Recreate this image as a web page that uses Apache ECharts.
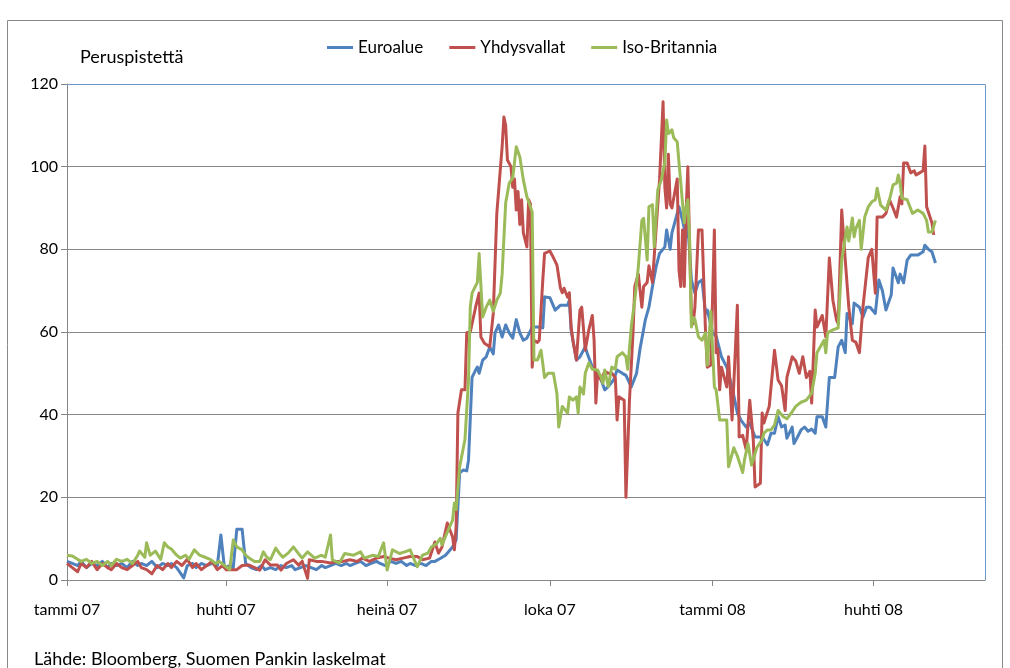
<!DOCTYPE html>
<html><head><meta charset="utf-8">
<script src="https://cdn.jsdelivr.net/npm/echarts@6/dist/echarts.min.js"></script>
<style>html,body{margin:0;padding:0;background:#fff}#c{width:1010px;height:668px}</style>
</head><body><div id="c"></div>
<script>
// x values are days since 2007-01-01
const baseDate = '2007-01-01';
const axisEndDate = '2008-06-03';
const tickDates = ['2007-01-01','2007-04-01','2007-07-01','2007-10-01','2008-01-01','2008-04-01'];
const tickLabels = ['tammi 07','huhti 07','heinä 07','loka 07','tammi 08','huhti 08'];
const yTicks = [0,20,40,60,80,100,120];
const seriesNames = ['Euroalue','Yhdysvallat','Iso-Britannia'];
const unitLabel = 'Peruspistettä';
const sourceText = 'Lähde: Bloomberg, Suomen Pankin laskelmat';

const euroalue = [[0,4.5],[3,4],[6,3.5],[8,4.5],[11,3],[14,4],[17,3.5],[20,4.5],[23,3],[25,4],[28,3.5],[31,4],[34,3],[37,4.5],[40,3.5],[42,4],[45,3.5],[48,4.5],[51,3],[54,4],[57,3.5],[59,4],[62,3],[66,0.5],[68,3.5],[71,4],[73,3],[76,4],[79,3.5],[82,4],[85,3.5],[87,10.9],[89,3],[92,3.5],[94,3],[96,12.3],[99,12.3],[101,4],[104,3],[107,2.5],[110,3.5],[112,2.5],[115,3],[118,2.5],[121,3.5],[124,3],[127,3.5],[129,2.5],[132,3],[135,3.5],[138,3],[141,2.5],[144,3.5],[146,3],[149,3.5],[152,4],[155,3.5],[158,4],[160,3.5],[163,4],[166,4.5],[169,3.5],[172,4],[175,4.5],[177,4],[180,3.5],[183,4.5],[186,4],[189,4.5],[192,3.5],[194,4],[197,3.5],[200,4],[203,3.5],[206,4.5],[208,4.5],[211,5.2],[214,6],[215,5.8],[218,8],[220,9.7],[222,25.9],[224,26.6],[226,26.4],[227,29],[229,49],[231,50.8],[232,51.5],[233,50],[235,53.2],[237,54],[239,56.4],[241,54.7],[242,59.8],[244,61.7],[246,58.8],[248,61.7],[250,59.8],[252,58.5],[254,63],[256,59.8],[258,58],[260,58.5],[263,61.2],[266,61.2],[267,61.2],[269,61],[270,68.5],[273,68.3],[276,65.3],[279,66.5],[283,66.5],[284,67.7],[285,60.5],[288,53.2],[290,54],[293,56.4],[294,55],[297,51.5],[299,50.5],[302,48.4],[304,46],[306,46.8],[309,48.4],[311,50.8],[314,50],[316,49.5],[319,46.7],[322,50],[324,56],[327,63],[329,66],[331,71],[333,75.7],[335,79],[338,80.6],[339,84.7],[341,80],[342,84],[345,88.7],[346,90.3],[348,87],[350,83],[351,86],[353,72.6],[355,69.4],[357,72],[359,72.6],[361,64.5],[362,65.3],[363,63.6],[365,59.8],[367,59],[370,54],[373,51.5],[376,46.7],[379,40.4],[381,38.7],[384,37],[386,38],[389,34.6],[390,34.4],[393,34.6],[394,34],[396,32.7],[398,35.5],[400,35.5],[402,39.5],[404,37],[406,37.5],[407,34.3],[410,37],[411,33],[413,34.6],[415,36.3],[417,37],[419,36],[421,36.5],[423,35.5],[424,39.5],[427,39.5],[429,37],[431,49],[434,49],[436,56.4],[438,58],[440,55],[441,64.5],[444,62],[445,67],[448,66],[450,63.6],[452,66],[454,66],[457,64.5],[459,72.6],[461,70],[463,65.3],[466,69],[467,75.5],[470,71.9],[471,74],[473,71.9],[475,77.4],[477,78.6],[481,78.6],[484,79.4],[485,81],[487,80],[489,79.4],[491,76.7]];

const yhdysvallat = [[0,4],[3,3],[6,2],[8,4],[11,3],[14,4.5],[17,2.5],[20,4],[23,3],[25,2.5],[28,4],[31,3],[34,2.5],[37,3.5],[40,4.5],[42,3],[45,2.5],[48,1.5],[51,3.5],[54,2.5],[57,4],[59,3],[62,4.5],[65,3.5],[68,5],[71,3],[73,4],[76,2.5],[79,3.5],[82,4.5],[85,2.5],[88,3.5],[90,2.5],[93,2.5],[96,2.5],[99,3.5],[103,3.6],[106,3],[109,2.4],[112,4.9],[115,3.6],[119,3.6],[121,2.4],[124,4],[128,4.9],[131,3.6],[133,4.5],[136,0.4],[137,4.9],[141,4.5],[144,4.5],[149,4.1],[153,4.5],[156,4.5],[160,4.9],[164,4.5],[167,5.3],[171,4.5],[175,5.3],[179,5.7],[182,5.3],[186,4.9],[190,5.3],[194,5.7],[198,5.7],[201,4.9],[205,5.3],[208,9.2],[210,6.5],[212,8],[215,13.8],[218,10.4],[219,7.3],[220,12.9],[221,40.4],[223,46],[225,46],[226,59.8],[228,60],[229,62],[231,66],[233,69.4],[234,58.8],[236,57.3],[239,56.4],[241,64.5],[243,88.7],[246,104.8],[247,112],[248,110],[249,101.6],[251,100],[252,95],[253,97],[254,89.5],[255,94],[256,86],[257,92],[258,84],[260,80.6],[261,92],[262,91],[263,51.5],[264,58],[266,57.5],[267,58],[269,72.6],[270,79],[273,79.6],[275,78],[277,76.2],[279,70.6],[280,69.5],[281,70.6],[283,68.4],[284,69.5],[285,61.2],[286,58],[288,53.2],[290,65.3],[291,66],[293,55.6],[295,60.5],[297,64],[298,58],[299,42.8],[300,50],[302,48.4],[304,50.5],[306,50],[308,50],[310,49],[311,38.7],[312,44.3],[315,43.5],[316,20],[318,43.5],[320,59.8],[321,71],[323,74],[325,66],[326,71],[328,72],[329,76],[331,72],[333,84.7],[335,96.8],[337,115.7],[338,95],[339,90],[340,103],[341,91],[342,90],[345,97],[346,75],[347,71],[348,84.7],[349,71],[350,88.7],[351,100],[352,80.6],[353,64.5],[354,62],[355,66],[357,84.7],[359,84.7],[361,60],[362,51.5],[364,52],[366,84.7],[367,55],[368,56],[369,46],[370,51.5],[373,46.7],[374,54],[376,38.7],[377,47.6],[379,66.5],[380,34.6],[382,35],[384,31.5],[386,43.5],[388,33.9],[389,22.5],[392,23.4],[393,40.4],[394,38],[397,42],[400,55.6],[401,55.6],[402,48.4],[404,47],[406,41],[407,49],[410,54],[412,53],[414,50],[416,54],[418,49],[420,50.5],[421,42.8],[423,65.3],[424,61.2],[427,64],[429,58.8],[431,77.9],[433,67.7],[435,63],[436,62],[438,89.5],[440,77.4],[442,66],[444,58],[446,57.5],[448,55],[450,66],[453,78],[455,80],[457,69.4],[458,87.8],[461,87.8],[463,88.7],[465,92],[467,90],[469,87.8],[471,92.7],[472,91],[473,100.9],[475,100.9],[477,98.5],[479,99],[480,98],[482,98.5],[484,99],[485,105],[486,90.3],[489,86.4],[490,83.5]];

const isoBritannia = [[0,6],[3,5.8],[6,5],[8,4.5],[11,5],[14,4],[17,4.5],[20,3.5],[23,4.5],[25,3.5],[28,5],[31,4.5],[34,5],[37,4],[40,6],[41,7],[44,5.5],[45,9],[47,6],[50,7],[53,5],[55,9],[57,8],[59,7.5],[62,6],[64,5.3],[67,6],[69,5],[72,7.3],[75,6],[78,5.5],[81,5],[84,4],[86,4.5],[89,3.5],[92,2.5],[94,9.7],[96,8],[99,7.3],[101,6],[103,5.3],[106,4.5],[109,4.5],[111,6.8],[113,5.5],[115,4.9],[118,7.7],[120,6.5],[122,5.5],[125,6.5],[128,8],[131,6.3],[133,5.3],[136,6.8],[140,5.3],[144,6],[146,5.5],[149,10.9],[150,4.9],[154,4.1],[157,6.4],[162,6],[166,6.8],[168,5.3],[173,6],[176,5.7],[179,9],[181,2.4],[184,7.3],[188,6.4],[191,6.8],[194,7.3],[198,3.2],[201,6],[204,6.5],[206,8],[209,8.8],[211,10.1],[212,8.5],[215,11.6],[218,14.5],[219,18.6],[220,17],[222,27.4],[225,34],[227,48.4],[228,66],[229,69.4],[232,72],[233,79],[235,63.6],[237,66],[239,67.7],[241,65],[243,67.7],[245,69.4],[246,74],[248,91.2],[250,96],[252,97.3],[254,104.8],[255,104.8],[256,102.4],[258,96.8],[260,92.7],[262,90.3],[263,89],[264,53.2],[266,53.2],[268,55.6],[270,49],[272,50],[275,50],[277,45],[278,37],[280,42],[283,40.4],[284,44.3],[286,43.5],[288,44.3],[289,40.4],[290,46.7],[292,45],[293,50],[295,52.5],[297,51],[300,50.8],[302,49],[303,47.6],[304,50.8],[306,46.8],[308,51.5],[310,51],[311,54],[314,55],[316,54],[317,51],[319,61.2],[321,67.7],[323,75.7],[325,87],[326,87.5],[328,77.4],[329,90.3],[331,90.8],[332,80.6],[334,94.4],[336,96.8],[338,101],[339,111.3],[340,108],[342,108.9],[343,107],[345,106],[346,101],[348,91.2],[349,86.4],[350,90.3],[351,92],[352,82.3],[353,61.2],[354,63.5],[355,63],[357,58.8],[359,58],[361,59.8],[362,52],[364,65],[366,46.7],[367,46],[369,38.7],[370,39],[373,38.7],[374,27.4],[377,32],[379,30],[382,26],[383,29],[385,33],[387,27.8],[389,30.6],[390,32],[393,34],[394,35.5],[396,36.3],[398,36.3],[400,37.5],[402,41],[405,39.5],[407,39],[410,40.7],[412,42],[415,43],[418,43.5],[421,45.2],[423,50],[424,55],[428,58],[429,55],[430,59.8],[433,60.5],[436,61],[438,77.4],[441,85.4],[442,82],[444,87.6],[445,83],[446,85],[448,87],[449,80],[451,87.8],[453,90.3],[455,91.5],[457,92],[458,94.8],[460,90.7],[463,89.5],[465,92],[467,95.6],[469,96],[470,98],[471,96],[472,92.4],[475,92],[478,88.7],[481,89.5],[484,88.7],[486,87],[487,84.2],[489,84.2],[491,87]];

function dayOf(s){ return Math.round((Date.parse(s+'T00:00:00Z') - Date.parse(baseDate+'T00:00:00Z'))/86400000); }
const tickDays = tickDates.map(dayOf);
const FONT = 'Lato, "Liberation Sans", sans-serif';
const colors = ['#4F81BD','#C0504D','#9BBB59'];
const allData = [euroalue, yhdysvallat, isoBritannia];

const chart = echarts.init(document.getElementById('c'), null, {renderer:'canvas'});
chart.setOption({
  animation:false,
  backgroundColor:'#fff',
  color: colors,
  textStyle:{fontFamily:FONT, color:'#000'},
  legend:{
    top:34, left:322, itemWidth:26, itemHeight:3, itemGap:26,
    icon:'rect',
    textStyle:{fontSize:17, fontFamily:FONT, color:'#000'},
    data: seriesNames
  },
  grid:{left:67, right:25, top:84, bottom:88, containLabel:false},
  xAxis:{
    type:'value', min:0, max:dayOf(axisEndDate),
    axisLine:{show:true, lineStyle:{color:'#868686', width:1}},
    axisTick:{show:true, customValues:tickDays, length:6, inside:false, lineStyle:{color:'#868686'}},
    axisLabel:{customValues:tickDays, margin:22, fontSize:16, fontFamily:FONT, color:'#000',
      formatter:(v)=>{ const i = tickDays.indexOf(Math.round(v)); return i>=0 ? tickLabels[i] : ''; }},
    splitLine:{show:false}
  },
  yAxis:{
    type:'value', min:yTicks[0], max:yTicks[yTicks.length-1], interval:20,
    axisLine:{show:true, lineStyle:{color:'#868686', width:1}},
    axisTick:{show:true, length:6, lineStyle:{color:'#868686'}},
    axisLabel:{margin:9, fontSize:16, fontFamily:FONT, color:'#000'},
    splitLine:{show:true, lineStyle:{color:'#868686', width:1}}
  },
  series: seriesNames.map((n,i)=>({
    name:n, type:'line', data:allData[i], symbol:'none', showSymbol:false,
    lineStyle:{width:3, color:colors[i], join:'round'},
    itemStyle:{color:colors[i]}, z:2+i
  })),
  graphic:[
    {type:'rect', shape:{x:7.5, y:20.5, width:995, height:700}, style:{fill:'none', stroke:'#898989', lineWidth:1}, silent:true},
    {type:'polyline', shape:{points:[[67,84.5],[985.5,84.5],[985.5,580]]}, style:{fill:'none', stroke:'#6D97CB', lineWidth:1}, z:1, silent:true},
    {type:'text', left:80, top:48, style:{text:unitLabel, font:'18px '+FONT, fill:'#000'}},
    {type:'text', left:34, top:650, style:{text:sourceText, font:'18px '+FONT, fill:'#000'}}
  ]
});
</script>
</body></html>
